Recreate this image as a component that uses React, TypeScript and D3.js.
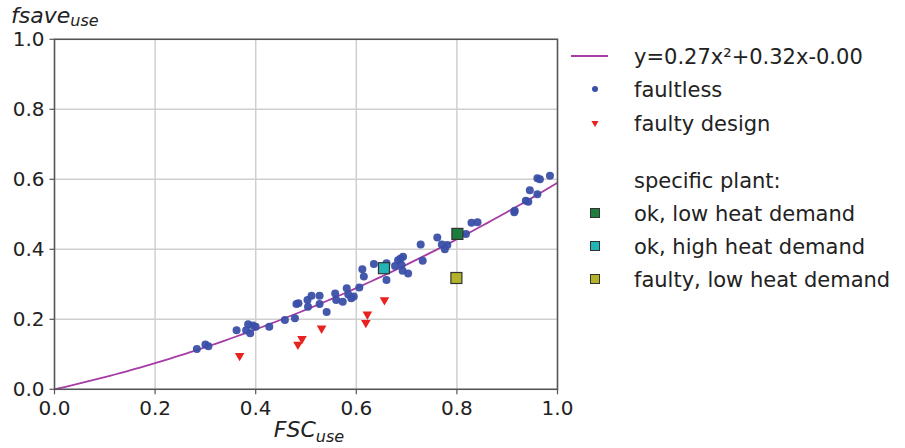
import React from "react";
import * as d3 from "d3";

const xTicks = [0, 0.2, 0.4, 0.6, 0.8, 1.0];
const yTicks = [0, 0.2, 0.4, 0.6, 0.8, 1.0];

const faultlessX = [0.283, 0.300, 0.306, 0.362, 0.385, 0.395, 0.389, 0.381, 0.400, 0.427, 0.458, 0.478, 0.481, 0.485, 0.503, 0.504, 0.511, 0.527, 0.527, 0.541, 0.558, 0.560, 0.573, 0.581, 0.584, 0.590, 0.595, 0.606, 0.612, 0.615, 0.635, 0.660, 0.660, 0.677, 0.683, 0.688, 0.693, 0.690, 0.692, 0.703, 0.728, 0.732, 0.761, 0.770, 0.776, 0.781, 0.818, 0.829, 0.841, 0.914, 0.915, 0.937, 0.942, 0.945, 0.960, 0.960, 0.965, 0.985];
const faultlessY = [0.115, 0.128, 0.123, 0.169, 0.186, 0.182, 0.160, 0.169, 0.179, 0.179, 0.198, 0.203, 0.244, 0.246, 0.255, 0.236, 0.267, 0.267, 0.244, 0.221, 0.274, 0.255, 0.250, 0.289, 0.271, 0.260, 0.265, 0.291, 0.343, 0.322, 0.358, 0.312, 0.360, 0.352, 0.369, 0.374, 0.379, 0.355, 0.339, 0.331, 0.414, 0.367, 0.434, 0.414, 0.400, 0.412, 0.444, 0.476, 0.477, 0.506, 0.510, 0.539, 0.536, 0.569, 0.557, 0.603, 0.600, 0.610];

const faultyX = [0.368, 0.484, 0.492, 0.531, 0.622, 0.619, 0.656];
const faultyY = [0.096, 0.128, 0.144, 0.174, 0.214, 0.190, 0.255];

const specialNames = ["ok, low heat demand", "ok, high heat demand", "faulty, low heat demand"];
const specialX = [0.801, 0.655, 0.799];
const specialY = [0.444, 0.346, 0.318];
const specialFill = ["#1e7d3c", "#22b5b5", "#b3b32a"];

const fitA = 0.27, fitB = 0.32, fitC = 0.0;
const fitLabel = "y=0.27x²+0.32x-0.00";

const W = 905, H = 448;
const L = 54.5, R = 557.5, T = 39.3, B = 389.3;

export default function App() {
  const x = d3.scaleLinear().domain([0, 1]).range([L, R]);
  const y = d3.scaleLinear().domain([0, 1]).range([B, T]);
  const fitXs = d3.range(0, 1.0001, 0.01);
  const line = d3.line<number>().x((v) => x(v)).y((v) => y(fitA * v * v + fitB * v + fitC));
  const tri = d3.symbol().type(d3.symbolTriangle).size(40)();
  const triLeg = d3.symbol().type(d3.symbolTriangle).size(22)();
  const font = "DejaVu Sans, sans-serif";
  const legX = 595;
  const legTextX = 634;
  const legFs = 21;
  const legRows = [56, 89, 123, 180, 213, 246, 279];

  return (
    <svg width={W} height={H} style={{ position: "absolute", left: 0, top: 0, background: "#fff" }} fontFamily={font}>
      {/* grid */}
      {xTicks.map((t) => (
        <line key={"gx" + t} x1={x(t)} x2={x(t)} y1={T} y2={B} stroke="#cfcfcf" strokeWidth={1.5} />
      ))}
      {yTicks.map((t) => (
        <line key={"gy" + t} x1={L} x2={R} y1={y(t)} y2={y(t)} stroke="#cfcfcf" strokeWidth={1.5} />
      ))}
      {/* fit curve */}
      <path d={line(fitXs) || ""} fill="none" stroke="#a63ca6" strokeWidth={1.8} />
      {/* faultless */}
      {faultlessX.map((v, i) => (
        <circle key={"f" + i} cx={x(v)} cy={y(faultlessY[i])} r={4} fill="#3a4fa8" opacity={0.95} />
      ))}
      {/* faulty */}
      {faultyX.map((v, i) => (
        <path key={"t" + i} d={tri} transform={`translate(${x(v)},${y(faultyY[i])}) rotate(180)`} fill="#e8231f" />
      ))}
      {/* specific plants */}
      {specialX.map((v, i) => (
        <rect key={"s" + i} x={x(v) - 5.5} y={y(specialY[i]) - 5.5} width={11} height={11} fill={specialFill[i]} stroke="#333" strokeWidth={1.2} />
      ))}
      {/* spines */}
      <rect x={L} y={T} width={R - L} height={B - T} fill="none" stroke="#555" strokeWidth={1.5} />
      {/* ticks */}
      {xTicks.map((t) => (
        <g key={"tx" + t}>
          <line x1={x(t)} x2={x(t)} y1={B} y2={B + 5} stroke="#555" strokeWidth={1.2} />
          <text x={x(t)} y={B + 26} textAnchor="middle" fontSize={20} fill="#222">{t.toFixed(1)}</text>
        </g>
      ))}
      {yTicks.map((t) => (
        <g key={"ty" + t}>
          <line x1={L - 5} x2={L} y1={y(t)} y2={y(t)} stroke="#555" strokeWidth={1.2} />
          <text x={L - 10} y={y(t) + 7} textAnchor="end" fontSize={20} fill="#222">{t.toFixed(1)}</text>
        </g>
      ))}
      {/* axis labels */}
      <text x={11} y={23} fontSize={22} fontStyle="italic" fill="#222">
        fsave<tspan fontSize={16} dy={3}>use</tspan>
      </text>
      <text x={309} y={437} textAnchor="middle" fontSize={22} fontStyle="italic" fill="#222">
        FSC<tspan fontSize={16} dy={5}>use</tspan>
      </text>
      {/* legend */}
      <line x1={571} x2={608} y1={legRows[0]} y2={legRows[0]} stroke="#a63ca6" strokeWidth={1.8} />
      <text x={legTextX} y={legRows[0] + 7.5} fontSize={legFs} fill="#222">{fitLabel}</text>
      <circle cx={legX} cy={legRows[1]} r={3} fill="#3a4fa8" />
      <text x={legTextX} y={legRows[1] + 7.5} fontSize={legFs} fill="#222">faultless</text>
      <path d={triLeg} transform={`translate(${legX},${legRows[2]}) rotate(180)`} fill="#e8231f" />
      <text x={legTextX} y={legRows[2] + 7.5} fontSize={legFs} fill="#222">faulty design</text>
      <text x={legTextX} y={legRows[3] + 7.5} fontSize={legFs} fill="#222">specific plant:</text>
      {specialNames.map((n, i) => (
        <g key={"l" + i}>
          <rect x={legX - 4.5} y={legRows[4 + i] - 4.5} width={9} height={9} fill={specialFill[i]} stroke="#333" strokeWidth={1} />
          <text x={legTextX} y={legRows[4 + i] + 7.5} fontSize={legFs} fill="#222">{n}</text>
        </g>
      ))}
    </svg>
  );
}
